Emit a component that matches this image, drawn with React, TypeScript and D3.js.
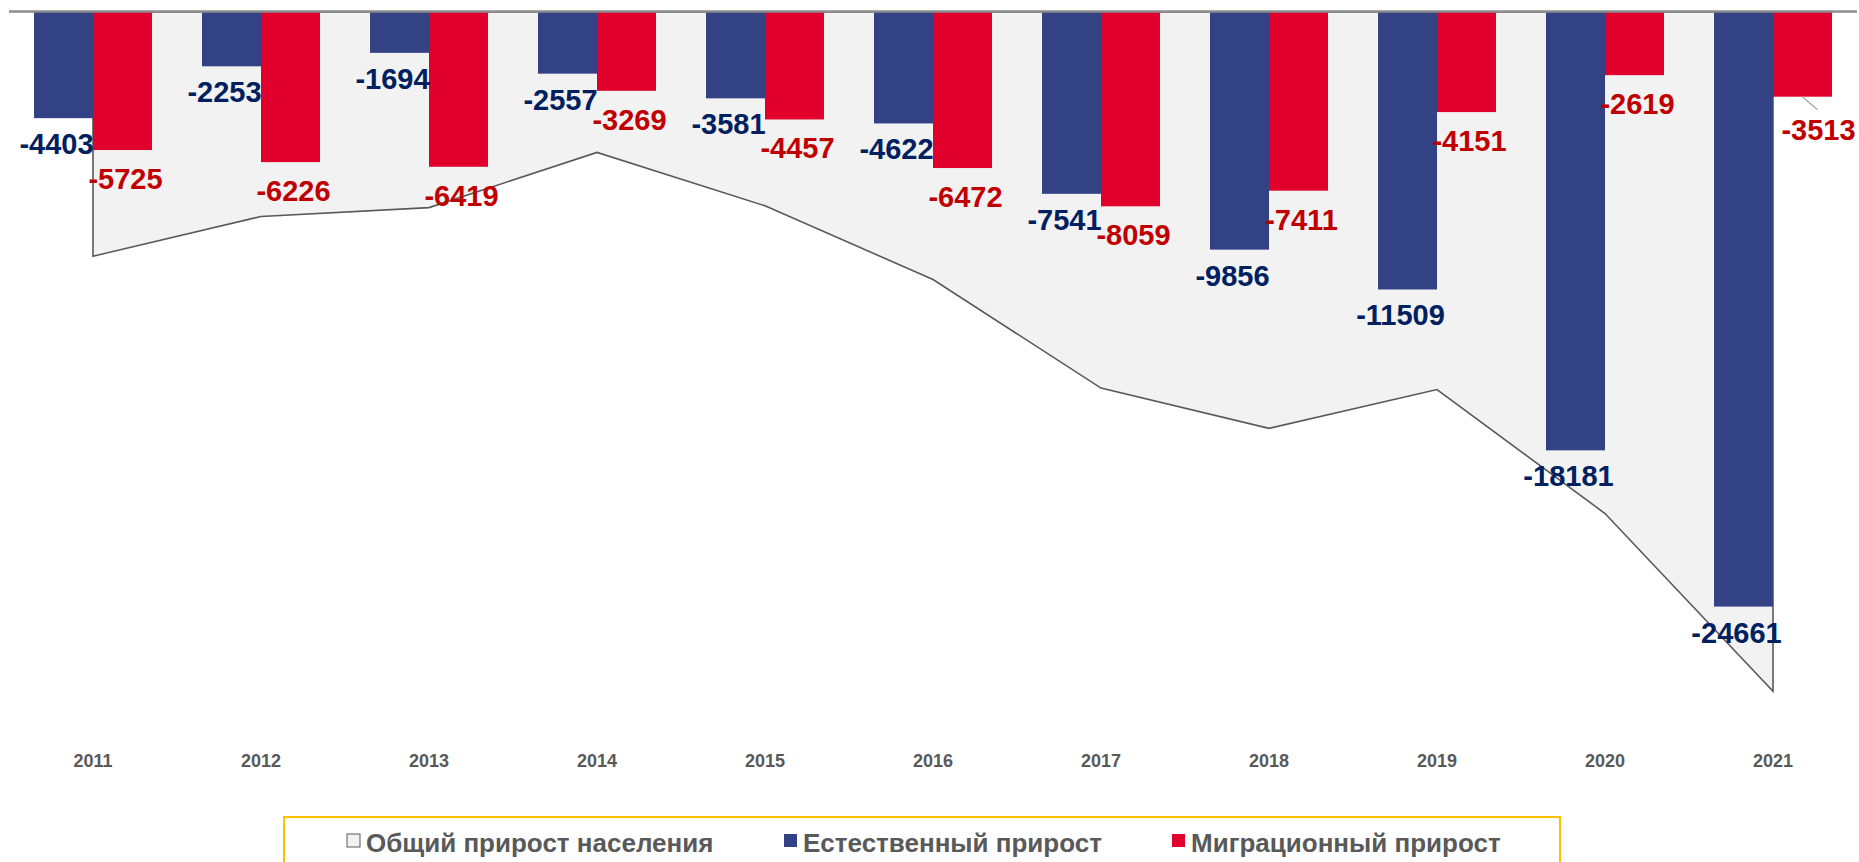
import { useEffect, useRef } from "react";
import * as d3 from "d3";

const years = ["2011", "2012", "2013", "2014", "2015", "2016", "2017", "2018", "2019", "2020", "2021"];
const naturalGrowth = [-4403, -2253, -1694, -2557, -3581, -4622, -7541, -9856, -11509, -18181, -24661];
const migrationGrowth = [-5725, -6226, -6419, -3269, -4457, -6472, -8059, -7411, -4151, -2619, -3513];
const totalGrowth = [-10128, -8479, -8113, -5826, -8038, -11094, -15600, -17267, -15660, -20800, -28174];
const seriesNames = ["Общий прирост населения", "Естественный прирост", "Миграционный прирост"];

const width = 1859;
const height = 862;
const font = "'Liberation Sans', Arial, sans-serif";
const blue = "#334185";
const red = "#E0002B";

export default function App() {
  const svgRef = useRef<SVGSVGElement>(null);

  useEffect(() => {
    if (!svgRef.current) return;
    const svg = d3.select(svgRef.current);
    svg.selectAll("*").remove();

    const x = d3.scaleBand<string>()
      .domain(years)
      .range([9, 1857])
      .paddingInner(50 / 168)
      .paddingOuter(25 / 168);

    const x1 = d3.scaleBand<string>()
      .domain(["natural", "migration"])
      .range([0, x.bandwidth()]);

    const y = d3.scaleLinear()
      .domain([0, -30000])
      .range([12, 735.3]);

    const cx = (i: number) => (x(years[i]) ?? 0) + x.bandwidth() / 2;

    // общий прирост - area behind the bars
    const area = d3.area<number>()
      .x((_, i) => cx(i))
      .y0(y(0))
      .y1((d) => y(d));

    svg.append("path")
      .datum(totalGrowth)
      .attr("d", area)
      .attr("fill", "#F2F2F2")
      .attr("stroke", "#595959")
      .attr("stroke-width", 1.6);

    const groups = svg.selectAll("g.year")
      .data(years)
      .enter()
      .append("g")
      .attr("class", "year")
      .attr("transform", (d) => `translate(${x(d)},0)`);

    groups.append("rect")
      .attr("x", x1("natural") ?? 0)
      .attr("y", y(0))
      .attr("width", x1.bandwidth())
      .attr("height", (_, i) => y(naturalGrowth[i]) - y(0))
      .attr("fill", blue);

    groups.append("rect")
      .attr("x", x1("migration") ?? 0)
      .attr("y", y(0))
      .attr("width", x1.bandwidth())
      .attr("height", (_, i) => y(migrationGrowth[i]) - y(0))
      .attr("fill", red);

    // zero line on top
    svg.append("line")
      .attr("x1", 9)
      .attr("x2", 1857)
      .attr("y1", y(0) - 0.5)
      .attr("y2", y(0) - 0.5)
      .attr("stroke", "#8C8C8C")
      .attr("stroke-width", 2.5);

    const last = years.length - 1;

    // data labels
    groups.append("text")
      .attr("x", (x1("natural") ?? 0) + x1.bandwidth() / 2 - 7)
      .attr("y", (_, i) => y(naturalGrowth[i]) + 36)
      .attr("text-anchor", "middle")
      .attr("font-family", font)
      .attr("font-weight", "bold")
      .attr("font-size", 29)
      .attr("fill", "#002060")
      .text((_, i) => naturalGrowth[i]);

    groups.append("text")
      .attr("x", (_, i) => (x1("migration") ?? 0) + x1.bandwidth() / 2 + (i === last ? 16 : 3))
      .attr("y", (_, i) => y(migrationGrowth[i]) + (i === last ? 43 : 39))
      .attr("text-anchor", "middle")
      .attr("font-family", font)
      .attr("font-weight", "bold")
      .attr("font-size", 29)
      .attr("fill", "#C00000")
      .text((_, i) => migrationGrowth[i]);

    // leader line for the moved label
    const lx = (x(years[last]) ?? 0) + (x1("migration") ?? 0) + x1.bandwidth() / 2;
    svg.append("line")
      .attr("x1", lx)
      .attr("y1", y(migrationGrowth[last]))
      .attr("x2", lx + 15)
      .attr("y2", y(migrationGrowth[last]) + 13)
      .attr("stroke", "#A6A6A6")
      .attr("stroke-width", 1.2);

    // years
    const axis = svg.append("g")
      .attr("transform", "translate(0,751)")
      .call(d3.axisBottom(x).tickSize(0));
    axis.select(".domain").remove();
    axis.selectAll("text")
      .attr("font-family", font)
      .attr("font-weight", "bold")
      .attr("font-size", 18)
      .attr("fill", "#595959");

    // legend
    svg.append("rect")
      .attr("x", 284)
      .attr("y", 817)
      .attr("width", 1276)
      .attr("height", 70)
      .attr("fill", "white")
      .attr("stroke", "#FFC000")
      .attr("stroke-width", 2);

    const legendX = [347, 784, 1172];
    const legendFill = ["#F2F2F2", blue, red];
    seriesNames.forEach((name, i) => {
      svg.append("rect")
        .attr("x", legendX[i])
        .attr("y", 834)
        .attr("width", 13)
        .attr("height", 13)
        .attr("fill", legendFill[i])
        .attr("stroke", i === 0 ? "#595959" : "none")
        .attr("stroke-width", 1);
      svg.append("text")
        .attr("x", legendX[i] + 19)
        .attr("y", 852)
        .attr("font-family", font)
        .attr("font-weight", "bold")
        .attr("font-size", 26)
        .attr("fill", "#595959")
        .text(name);
    });
  }, []);

  return (
    <div style={{ position: "absolute", left: 0, top: 0, width, height, overflow: "hidden", background: "white" }}>
      <svg ref={svgRef} width={width} height={height} style={{ display: "block" }} />
    </div>
  );
}
